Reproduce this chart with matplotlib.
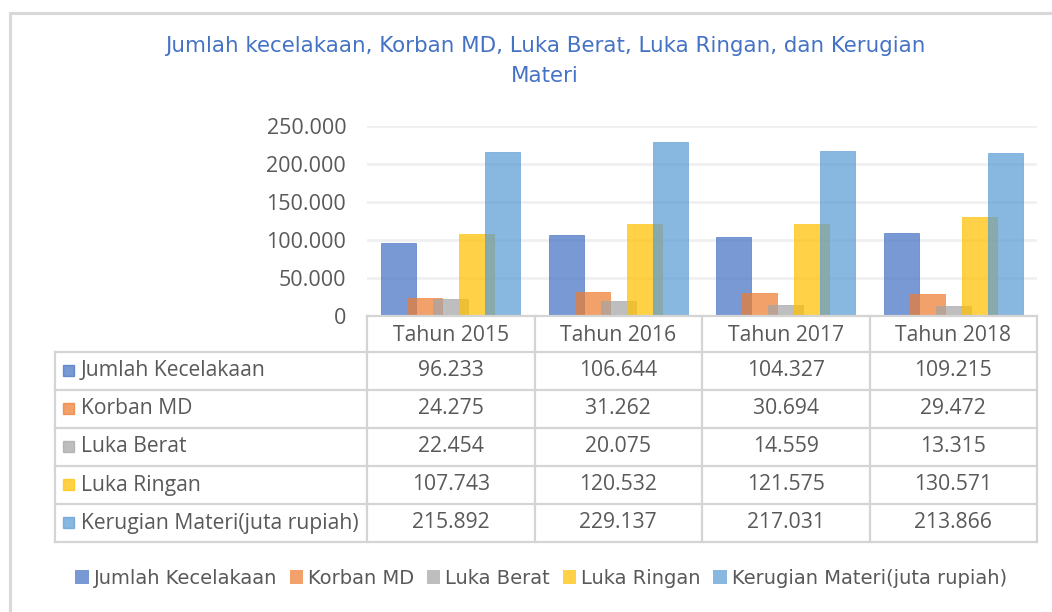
"""Grouped bar chart with data table: kecelakaan 2015-2018."""
import numpy as np
import matplotlib
matplotlib.use("Agg")
import matplotlib.pyplot as plt
from matplotlib.patches import Patch, Rectangle
from matplotlib.lines import Line2D

years = ["Tahun 2015", "Tahun 2016", "Tahun 2017", "Tahun 2018"]
series_names = ["Jumlah Kecelakaan", "Korban MD", "Luka Berat", "Luka Ringan",
                "Kerugian Materi(juta rupiah)"]
jumlah_kecelakaan = [96233, 106644, 104327, 109215]
korban_md = [24275, 31262, 30694, 29472]
luka_berat = [22454, 20075, 14559, 13315]
luka_ringan = [107743, 120532, 121575, 130571]
kerugian_materi = [215892, 229137, 217031, 213866]
y_ticks = [0, 50000, 100000, 150000, 200000, 250000]

series = [jumlah_kecelakaan, korban_md, luka_berat, luka_ringan, kerugian_materi]
colors = ["#4472C4", "#ED7D31", "#A5A5A5", "#FFC000", "#5B9BD5"]
ALPHA = 0.72
TEXT = "#595959"
NARROW = ["Liberation Sans Narrow", "DejaVu Sans"]
BODY = ["Open Sans", "DejaVu Sans"]
FS = 15.2

W, H = 1052, 612


def fx(px):
    return px / W


def fy(py):
    return 1 - py / H


def fmt(v):
    return f"{v:,}".replace(",", ".")


fig = plt.figure(figsize=(W / 100, H / 100), dpi=100)

# outer chart frame (only top/left visible)
fig.add_artist(Line2D([fx(10), fx(10)], [fy(13), 0], color="#d9d9d9", lw=2.2))
fig.add_artist(Line2D([fx(10), 1], [fy(13), fy(13)], color="#d9d9d9", lw=2.2))

fig.text(fx(545), fy(46), "Jumlah kecelakaan, Korban MD, Luka Berat, Luka Ringan, dan Kerugian",
         ha="center", va="center", color="#4472C4", fontsize=15.4, family=NARROW)
fig.text(fx(545), fy(76), "Materi", ha="center", va="center", color="#4472C4",
         fontsize=15.4, family=NARROW)

# plot area
x0, x1, ytop, ybot = 367, 1037, 126, 316
ax = fig.add_axes([fx(x0), fy(ybot), fx(x1 - x0), (ybot - ytop) / H])
x = np.arange(len(years))
width = 0.21
step = 0.155
for i, (vals, c) in enumerate(zip(series, colors)):
    ax.bar(x + (i - 2) * step, vals, width, color=c, alpha=ALPHA, zorder=3 + i,
           edgecolor=c, linewidth=0.6)
ax.set_xlim(-0.5, len(years) - 0.5)
ax.set_ylim(0, 250000)
ax.set_yticks(y_ticks)
ax.set_yticklabels([fmt(t) for t in y_ticks], color=TEXT, fontsize=15.5, family=BODY)
ax.tick_params(axis="y", length=0, pad=15)
ax.set_xticks([])
ax.grid(axis="y", color="#f0f0f0", lw=2, zorder=0)
for s in ax.spines.values():
    s.set_visible(False)

# data table
line_kw = dict(color="#d4d4d4", lw=1.6)
col_x = [x0 + (x1 - x0) * k / len(years) for k in range(len(years) + 1)]
head_top, head_bot = 316, 352
row_h = 38
n_rows = len(series)
table_bot = head_bot + row_h * n_rows
left = 55

# header row
fig.add_artist(Line2D([fx(x0), fx(x1)], [fy(head_top), fy(head_top)], **line_kw))
for cx in col_x:
    fig.add_artist(Line2D([fx(cx), fx(cx)], [fy(head_top), fy(table_bot)], **line_kw))
for k, yr in enumerate(years):
    fig.text(fx((col_x[k] + col_x[k + 1]) / 2), fy((head_top + head_bot) / 2 + 1), yr,
             ha="center", va="center", color=TEXT, fontsize=FS, family=BODY)

# body rows
fig.add_artist(Line2D([fx(left), fx(left)], [fy(head_bot), fy(table_bot)], **line_kw))
for r in range(n_rows + 1):
    yy = head_bot + row_h * r
    fig.add_artist(Line2D([fx(left), fx(x1)], [fy(yy), fy(yy)], **line_kw))
for r, (name, vals, c) in enumerate(zip(series_names, series, colors)):
    yc = head_bot + row_h * r + row_h / 2
    fig.add_artist(Rectangle((fx(63), fy(yc + 5)), fx(11), 11 / H, color=c, alpha=ALPHA))
    fig.text(fx(81), fy(yc), name, ha="left", va="center", color=TEXT,
             fontsize=FS, family=BODY)
    for k, v in enumerate(vals):
        fig.text(fx((col_x[k] + col_x[k + 1]) / 2), fy(yc), fmt(v), ha="center",
                 va="center", color=TEXT, fontsize=FS, family=BODY)

# legend
handles = [Patch(facecolor=c, alpha=ALPHA, label=n) for n, c in zip(series_names, colors)]
fig.legend(handles=handles, loc="center", bbox_to_anchor=(fx(541), fy(578)), ncol=5,
           frameon=False, handlelength=0.7, handleheight=0.7, handletextpad=0.25,
           columnspacing=0.65, prop={"family": NARROW, "size": 14},
           labelcolor=TEXT)

fig.savefig("out.png", dpi=100, facecolor="white")
